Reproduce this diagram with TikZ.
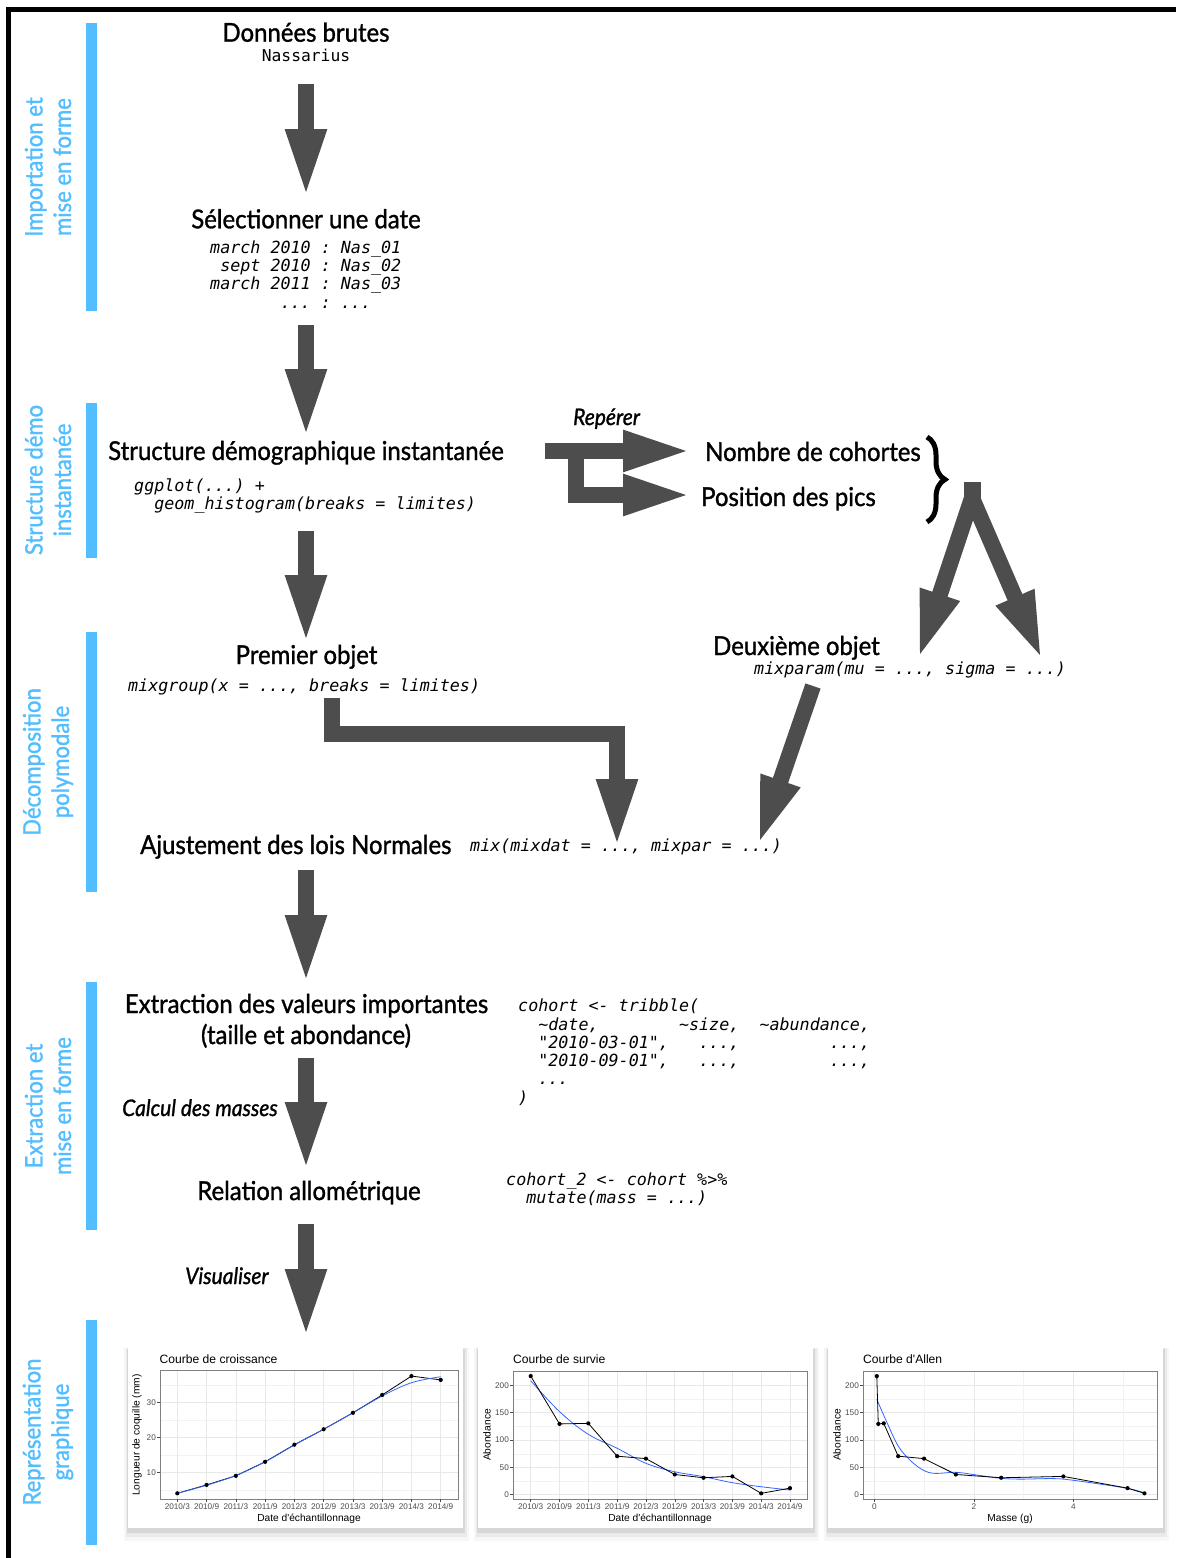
\documentclass[tikz,border=0pt]{standalone}
\usepackage{fontspec}
\setmainfont{Lato}[FakeStretch=0.92, FakeBold=1.2]
\setmonofont{DejaVu Sans Mono}[ItalicFont={DejaVu Sans Mono Oblique}]
\newfontfamily\plotfont{Liberation Sans}
\usetikzlibrary{arrows.meta,decorations.pathreplacing}
\definecolor{arrowgrey}{RGB}{77,77,77}
\definecolor{labelblue}{RGB}{82,190,255}
\definecolor{smoothblue}{RGB}{51,102,255}
\definecolor{tickgrey}{RGB}{77,77,77}
\begin{document}
\begin{tikzpicture}[x=1pt,y=-1pt,
  title/.style={font=\fontsize{26}{30}\selectfont, inner sep=0pt, anchor=base},
  itlabel/.style={font=\fontsize{22.8}{26}\selectfont\itshape, inner sep=0pt, anchor=base west},
  codeline/.style={font=\fontsize{16.7}{18}\selectfont\ttfamily\itshape, inner sep=0pt, anchor=base west},
  sidelabel/.style={font=\fontsize{24}{28.5}\selectfont, text=labelblue, rotate=90, align=center, inner sep=0pt},
  sidebar/.style={fill=labelblue},
  bigarrow/.style={draw=arrowgrey, line width=16pt, shorten >=-6pt, -{Triangle[length=69pt,width=37pt]}},
  ptitle/.style={font=\plotfont\fontsize{12.1}{14}\selectfont, inner sep=0pt, anchor=base west},
  axtitle/.style={font=\plotfont\fontsize{10.2}{12}\selectfont, inner sep=0pt},
  ticklabel/.style={font=\plotfont\fontsize{8.2}{10}\selectfont, text=tickgrey, inner sep=0pt},
  majorgrid/.style={draw=black!9, line width=0.6pt},
  minorgrid/.style={draw=black!5, line width=0.4pt},
  pborder/.style={draw=black!50, line width=0.6pt},
  ptick/.style={draw=black!70, line width=0.5pt},
  blackline/.style={draw=black, line width=0.8pt},
  blueline/.style={draw=smoothblue, line width=0.8pt},
  panelbox/.style={fill=white},
]
\useasboundingbox (0,0) rectangle (1176,1558);
\fill[white] (0,0) rectangle (1176,1558);
\draw[line width=5pt] (8.5,1558) -- (8.5,9) -- (1176,9);

% side bars and labels
\fill[sidebar] (86,23) rectangle (97,311);
\node[sidelabel] (s1) at (48,167) {Importation et\\mise en forme};
\fill[sidebar] (86,403) rectangle (97,558);
\node[sidelabel] (s2) at (48,480) {Structure démo\\instantanée};
\fill[sidebar] (86,632) rectangle (97,892);
\node[sidelabel] (s3) at (48,762) {Décomposition\\polymodale};
\fill[sidebar] (86,982) rectangle (97,1230);
\node[sidelabel] (s4) at (48,1106) {Extraction et\\mise en forme};
\fill[sidebar] (86,1320) rectangle (97,1545);
\node[sidelabel] (s5) at (48,1432) {Représentation\\graphique};

% main column
\node[title] (t1) at (306,41.7) {Données brutes};
\node[codeline, anchor=base, font=\fontsize{16.3}{18}\selectfont\ttfamily] (nass) at (306,61.7) {Nassarius};
\node[title] (t2) at (306,228.3) {Sélectionner une date};
\node[codeline] (c1a) at (210,253.3) {march~2010~:~Nas\_01};
\node[codeline] (c1b) at (210,271.6) {~sept~2010~:~Nas\_02};
\node[codeline] (c1c) at (210,289.9) {march~2011~:~Nas\_03};
\node[codeline] (c1d) at (210,308.2) {~~~~~~~...~:~...};
\node[title] (t3) at (306,460) {Structure démographique instantanée};
\node[codeline] (c2a) at (134,491.7) {ggplot(...)~+};
\node[codeline] (c2b) at (134,509.5) {~~geom\_histogram(breaks~=~limites)};
\node[title] (t4) at (306.5,664) {Premier objet};
\node[codeline] (c3) at (128,691) {mixgroup(x~=~...,~breaks~=~limites)};
\node[title, anchor=base west] (t5) at (140,854) {Ajustement des lois Normales};
\node[codeline] (c5) at (470,851) {mix(mixdat~=~...,~mixpar~=~...)};
\node[title] (t6) at (306.5,1013) {Extraction des valeurs importantes};
\node[title] (t6b) at (306,1044) {(taille et abondance)};
\node[itlabel] (calc) at (122,1116) {Calcul des masses};
\node[title] (t7) at (309,1200) {Relation allométrique};
\node[itlabel] (visu) at (185,1284) {Visualiser};

% right column
\node[itlabel] (rep) at (573,425) {Repérer};
\node[title, anchor=base west] (nb) at (705,461) {Nombre de cohortes};
\node[title, anchor=base west] (pos) at (701,506) {Position des pics};
\node[title, anchor=base west] (t8) at (713,655) {Deuxième objet};
\node[codeline] (c8) at (754,674) {mixparam(mu~=~...,~sigma~=~...)};

% code blocks
\node[codeline] (k1) at (518,1011.7) {cohort~<-~tribble(};
\node[codeline] (k2) at (518,1030) {~~\textasciitilde date,~~~~~~~~\textasciitilde size,~~\textasciitilde abundance,};
\node[codeline] (k3) at (518,1048.3) {~~"2010-03-01",~~~...,~~~~~~~~~...,};
\node[codeline] (k4) at (518,1066.6) {~~"2010-09-01",~~~...,~~~~~~~~~...,};
\node[codeline] (k5) at (518,1084.9) {~~...};
\node[codeline] (k6) at (518,1103.2) {)};
\node[codeline] (m1) at (506,1185) {cohort\_2~<-~cohort~\%>\%};
\node[codeline] (m2) at (506,1203) {~~mutate(mass~=~...)};

% arrow anchor coordinates
\coordinate (a1s) at (306,84);   \coordinate (a1e) at (306,192);
\coordinate (a2s) at (306,325);  \coordinate (a2e) at (306,432);
\coordinate (a3s) at (306,531);  \coordinate (a3e) at (306,638);
\coordinate (a4s) at (306,870);  \coordinate (a4e) at (306,978);
\coordinate (a5s) at (306,1058); \coordinate (a5e) at (306,1165);
\coordinate (a6s) at (306,1224); \coordinate (a6e) at (306,1332);
\coordinate (e1) at (332,698); \coordinate (e2) at (332,734);
\coordinate (e3) at (617,734); \coordinate (e4) at (617,842);
\coordinate (r1) at (545,451); \coordinate (r1e) at (686,451);
\coordinate (r2) at (576,451); \coordinate (r2b) at (576,495); \coordinate (r2e) at (686,495);
\coordinate (v0) at (972,482); \coordinate (v1) at (972,503); \coordinate (v2) at (972,498);
\coordinate (vl) at (920,654); \coordinate (vr) at (1040,655);
\coordinate (d1) at (813,686); \coordinate (d2) at (760,840);

\draw[bigarrow] (a1s) -- (a1e);
\draw[bigarrow] (a2s) -- (a2e);
\draw[bigarrow] (a3s) -- (a3e);
\draw[bigarrow] (a4s) -- (a4e);
\draw[bigarrow] (a5s) -- (a5e);
\draw[bigarrow] (a6s) -- (a6e);
\draw[bigarrow] (e1) -- (e2) -- (e3) -- (e4);
\draw[bigarrow] (r1) -- (r1e);
\draw[bigarrow] (r2) -- (r2b) -- (r2e);
\draw[draw=arrowgrey, line width=17pt] (v0) -- (v1);
\draw[bigarrow] (v2) -- (vl);
\draw[bigarrow] (v2) -- (vr);
\draw[bigarrow] (d1) -- (d2);

% brace
\draw[decorate, decoration={brace, amplitude=18pt}, line width=5pt] (927,437) -- (927,522);

% ---------- panels ----------
\foreach \px in {128,478,828}{
  \fill[black, opacity=0.03] (\px-4,1348) rectangle (\px+341,1541);
  \fill[black, opacity=0.05] (\px-2,1348) rectangle (\px+339,1537);
  \fill[black, opacity=0.08] (\px-1,1349) rectangle (\px+337,1533);
  \fill[panelbox] (\px,1348) rectangle (\px+335,1528);
}

% panel 1
\node[ptitle] (p1t) at (159.5,1363) {Courbe de croissance};
\begin{scope}[shift={(177.3,1507.3)}, x=29.27pt, y=3.5pt]
  \foreach \v in {5,15,25,35} \draw[minorgrid] (-0.59,\v) -- (9.59,\v);
  \foreach \v in {10,20,30} \draw[majorgrid] (-0.59,\v) -- (9.59,\v);
  \foreach \i in {0,...,9} \draw[majorgrid] (\i,2.37) -- (\i,39.23);
  \draw[pborder] (-0.59,2.37) rectangle (9.59,39.23);
  \foreach \v in {10,20,30}{
    \draw[ptick] (-0.59,\v) -- ++(-2.75pt,0pt);
    \node[ticklabel, anchor=east] at (-0.59,\v) [xshift=-4pt] {\v};
  }
  \foreach \i/\yy/\mm in {0/2010/3,1/2010/9,2/2011/3,3/2011/9,4/2012/3,5/2012/9,6/2013/3,7/2013/9,8/2014/3,9/2014/9}{
    \draw[ptick] (\i,2.37) -- ++(0pt,-2.75pt);
    \node[ticklabel, anchor=north] at (\i,2.37) [yshift=-4.3pt] {\yy/\mm};
  }
  \draw[blackline] plot coordinates {(0,4.0) (1,6.4) (2,9.0) (3,13.0) (4,17.9) (5,22.3) (6,27.0) (7,32.1) (8,37.5) (9,36.4)};
  \draw[blueline] plot[smooth, tension=0.6] coordinates {(0,4.0) (1,6.3) (2,9.1) (3,13.0) (4,17.8) (5,22.3) (6,27.0) (7,31.8) (8,35.6) (9,37.3)};
  \foreach \p in {(0,4.0),(1,6.4),(2,9.0),(3,13.0),(4,17.9),(5,22.3),(6,27.0),(7,32.1),(8,37.5),(9,36.4)}
    \fill \p circle (2.1pt);
\end{scope}
\node[axtitle, anchor=base] (p1x) at (309,1521.5) {Date d'échantillonnage};
\node[axtitle, rotate=90] (p1y) at (137,1435) {Longueur de coquille (mm)};

% panel 2
\node[ptitle] (p2t) at (513,1363) {Courbe de survie};
\begin{scope}[shift={(530.7,1494.7)}, x=28.81pt, y=0.5467pt]
  \foreach \v in {25,75,125,175} \draw[minorgrid] (-0.614,\v) -- (9.59,\v);
  \foreach \v in {0,50,100,150,200} \draw[majorgrid] (-0.614,\v) -- (9.59,\v);
  \foreach \i in {0,...,9} \draw[majorgrid] (\i,-7.9) -- (\i,226.3);
  \draw[pborder] (-0.614,-7.9) rectangle (9.59,226.3);
  \foreach \v in {0,50,100,150,200}{
    \draw[ptick] (-0.614,\v) -- ++(-2.75pt,0pt);
    \node[ticklabel, anchor=east] at (-0.614,\v) [xshift=-4pt] {\v};
  }
  \foreach \i/\yy/\mm in {0/2010/3,1/2010/9,2/2011/3,3/2011/9,4/2012/3,5/2012/9,6/2013/3,7/2013/9,8/2014/3,9/2014/9}{
    \draw[ptick] (\i,-7.9) -- ++(0pt,-2.75pt);
    \node[ticklabel, anchor=north] at (\i,-7.9) [yshift=-4.3pt] {\yy/\mm};
  }
  \draw[blueline] plot[smooth, tension=0.6] coordinates {(0,208.5) (1,152) (2,110.5) (3,85) (4,57.4) (5,42) (6,33) (7,22) (8,14.6) (9,8.6)};
  \draw[blackline] plot coordinates {(0,217) (1,129.5) (2,130.5) (3,70.5) (4,66) (5,37) (6,31) (7,33.5) (8,2.5) (9,12)};
  \foreach \p in {(0,217),(1,129.5),(2,130.5),(3,70.5),(4,66),(5,37),(6,31),(7,33.5),(8,2.5),(9,12)}
    \fill \p circle (2.1pt);
\end{scope}
\node[axtitle, anchor=base] (p2x) at (660,1521.5) {Date d'échantillonnage};
\node[axtitle, rotate=90] (p2y) at (487,1435) {Abondance};

% panel 3
\node[ptitle] (p3t) at (863,1363) {Courbe d'Allen};
\begin{scope}[shift={(874.3,1494.7)}, x=49.75pt, y=0.5467pt]
  \foreach \v in {25,75,125,175} \draw[minorgrid] (-0.227,\v) -- (5.68,\v);
  \foreach \v in {0,50,100,150,200} \draw[majorgrid] (-0.227,\v) -- (5.68,\v);
  \foreach \m in {1,3,5} \draw[minorgrid] (\m,-7.9) -- (\m,226.3);
  \foreach \m in {0,2,4} \draw[majorgrid] (\m,-7.9) -- (\m,226.3);
  \draw[pborder] (-0.227,-7.9) rectangle (5.68,226.3);
  \foreach \v in {0,50,100,150,200}{
    \draw[ptick] (-0.227,\v) -- ++(-2.75pt,0pt);
    \node[ticklabel, anchor=east] at (-0.227,\v) [xshift=-4pt] {\v};
  }
  \foreach \m in {0,2,4}{
    \draw[ptick] (\m,-7.9) -- ++(0pt,-2.75pt);
    \node[ticklabel, anchor=north] at (\m,-7.9) [yshift=-4.3pt] {\m};
  }
  \draw[blueline] plot[smooth, tension=0.55] coordinates {(0.05,174.5) (0.25,133) (0.48,89) (0.72,63) (0.98,45) (1.22,39) (1.64,41) (2.06,36) (2.55,30) (2.93,28.5) (3.5,29.5) (3.8,28.5) (4.27,23) (5.09,11.6) (5.42,3.7)};
  \draw[blackline] plot coordinates {(0.05,217) (0.08,129.5) (0.19,130.5) (0.48,70.5) (1.0,66) (1.64,37) (2.55,31) (3.80,33.5) (5.09,12) (5.43,2.5)};
  \foreach \p in {(0.05,217),(0.08,129.5),(0.19,130.5),(0.48,70.5),(1.0,66),(1.64,37),(2.55,31),(3.80,33.5),(5.09,12),(5.43,2.5)}
    \fill \p circle (2.1pt);
\end{scope}
\node[axtitle, anchor=base] (p3x) at (1010,1521.5) {Masse (g)};
\node[axtitle, rotate=90] (p3y) at (837,1435) {Abondance};
\end{tikzpicture}
\end{document}
